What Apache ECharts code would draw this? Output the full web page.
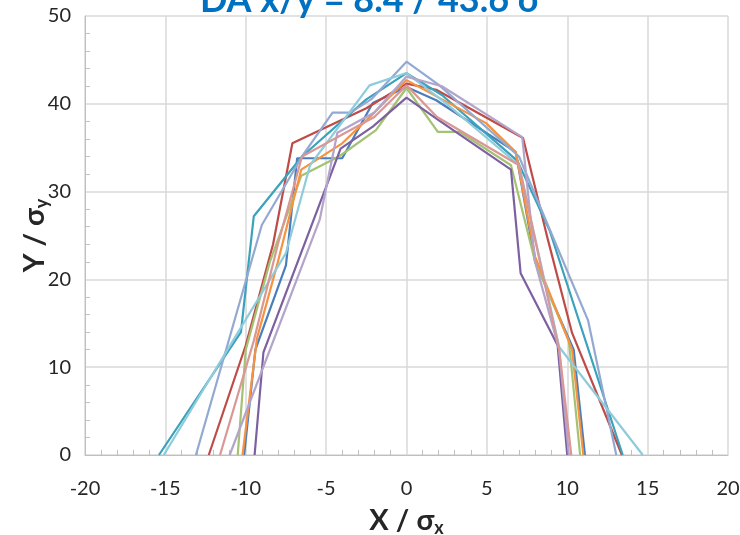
<!DOCTYPE html>
<html><head><meta charset="utf-8">
<script src="https://cdn.jsdelivr.net/npm/echarts@6/dist/echarts.min.js"></script>
<style>html,body{margin:0;padding:0;background:#fff}#c{width:740px;height:535px}</style>
</head><body><div id="c"></div>
<script>
// Title / axis text
const titleText = 'DA x/y = 8.4 / 43.6 σ';
const xTicks = [-20, -15, -10, -5, 0, 5, 10, 15, 20];
const yTicks = [0, 10, 20, 30, 40, 50];

// Series points [x/σx, y/σy]
const sBlue = [[-10.1,0],[-9.4,12],[-7.5,21.6],[-6.8,33.8],[-4.0,33.8],[-2.1,40.1],[0,41.9],[1.85,40.4],[6.8,34.5],[8.0,22],[10.4,12],[11.1,0]];
const sRed = [[-12.3,0],[-10.0,12.5],[-8.3,24],[-7.1,35.5],[-2.5,39.5],[0,42.3],[1.85,41.6],[7.25,36.1],[8.8,24.5],[10.3,13.9],[13.4,0]];
const sGreen = [[-10.5,0],[-10.0,12],[-8.5,22],[-6.55,31.8],[-4.2,34],[-1.9,37],[0,41.8],[1.95,36.8],[3.3,36.8],[6.5,33],[8.0,22],[10.1,13],[10.8,0]];
const sPurple = [[-9.45,0],[-8.9,11.7],[-4.1,34.9],[-2.1,37.4],[0,40.7],[1.95,38.2],[6.5,32.5],[7.1,20.7],[9.4,12.5],[10.0,0]];
const sTeal = [[-15.4,0],[-10.3,14],[-9.5,27.2],[-6.5,34],[-2.5,40.5],[0,43.5],[2.2,41],[6.9,33.5],[8.9,25.6],[13.45,0]];
const sOrange = [[-10.2,0],[-9.3,13.3],[-8,22],[-6.55,32.5],[-4,35.5],[-2,39],[0,42.7],[4.95,37.8],[6.8,34.5],[8.0,22.6],[10.3,12],[11.0,0]];
const sLightBlue = [[-13.1,0],[-9.0,26.2],[-6.5,34],[-4.6,39],[-3.5,39],[-2.2,40.5],[0,44.8],[2.05,42.1],[7,34],[11.3,15.3],[13.05,0]];
const sLightAqua = [[-15.1,0],[-7.5,23],[-6,33],[-2.3,42.1],[0,43.5],[2.5,40],[7,33],[9.5,12.3],[14.7,0]];
const sLightPurple = [[-11.0,0],[-5.4,26.8],[-4.3,36.7],[-2,39],[0,43.1],[2.2,42],[7.2,36.2],[8,22],[9.5,12],[10.1,0]];
const sPink = [[-11.6,0],[-9.5,13],[-8,24],[-6.5,34],[-2,38.5],[0,42.1],[1.9,38.5],[7,33],[8.3,22],[9.5,12],[10.25,0]];

const seriesList = [
  ['Blue', sBlue, '#4A7EBB'],
  ['Red', sRed, '#BE4B48'],
  ['Green', sGreen, '#A4C273'],
  ['Purple', sPurple, '#7D60A0'],
  ['Teal', sTeal, '#3BA2BC'],
  ['Orange', sOrange, '#F69240'],
  ['LightBlue', sLightBlue, '#93A9D1'],
  ['LightAqua', sLightAqua, '#8ECBDB'],
  ['LightPurple', sLightPurple, '#B3A4CB'],
  ['Pink', sPink, '#D99795']
];

const FONT = 'Lato';
const nameRich = {
  a: { fontSize: 29, fontWeight: 'bold', color: '#262626', fontFamily: FONT },
  s: { fontSize: 18, fontWeight: 'bold', color: '#262626', fontFamily: FONT, padding: [15,0,0,0] }
};
const chart = echarts.init(document.getElementById('c'));
chart.setOption({
  animation: false,
  backgroundColor: '#fff',
  title: {
    text: titleText,
    left: 'center',
    top: -23,
    textStyle: { color: '#0070C0', fontSize: 36, fontWeight: 'bold', fontFamily: FONT }
  },
  grid: { left: 85, right: 12, top: 16, bottom: 80, containLabel: false, outerBoundsMode: 'none' },
  xAxis: {
    type: 'value', min: -20, max: 20, interval: 5,
    axisLine: { onZero: false, lineStyle: { color: '#BFBFBF', width: 1 } },
    axisTick: { show: false, inside: true },
    minorTick: { show: true, splitNumber: 5, length: 5, lineStyle: { color: '#BFBFBF' } },
    splitLine: { show: true, lineStyle: { color: '#D9D9D9', width: 1.5 } },
    axisLabel: { color: '#262626', fontSize: 20, fontFamily: FONT, margin: 24,
      formatter: v => xTicks.includes(v) ? String(v) : '' },
    name: '{a|X / σ}{s|x}',
    nameLocation: 'middle', nameGap: 49, nameMoveOverlap: false,
    nameTextStyle: { rich: nameRich }
  },
  yAxis: {
    type: 'value', min: 0, max: 50, interval: 10,
    axisLine: { show: true, onZero: false, lineStyle: { color: '#BFBFBF', width: 1 } },
    axisTick: { show: false, inside: true },
    minorTick: { show: true, splitNumber: 5, length: 5, lineStyle: { color: '#BFBFBF' } },
    splitLine: { show: true, lineStyle: { color: '#D9D9D9', width: 1.5 } },
    axisLabel: { color: '#262626', fontSize: 20, fontFamily: FONT, margin: 14,
      formatter: v => yTicks.includes(v) ? String(v) : '' },
    name: '{a|Y / σ}{s|y}',
    nameLocation: 'middle', nameGap: 34, nameRotate: 90, nameMoveOverlap: false,
    nameTextStyle: { rich: nameRich }
  },
  series: seriesList.map(([name, pts, color]) => ({
    name, type: 'line', data: pts, showSymbol: false, symbol: 'none',
    lineStyle: { color, width: 2.2 }, itemStyle: { color }, z: 3
  }))
});
</script>
</body></html>
